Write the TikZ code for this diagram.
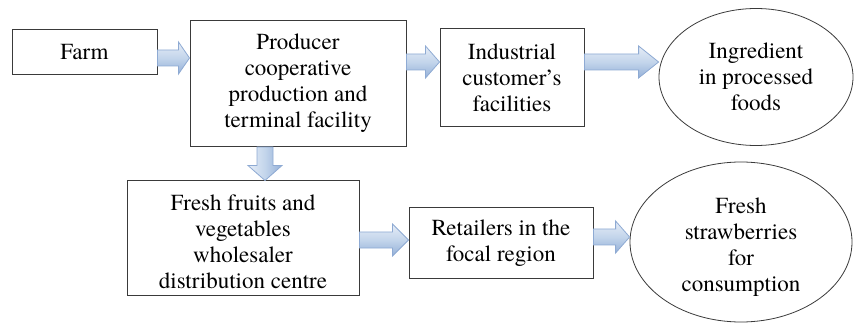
\documentclass[tikz,border=0pt]{standalone}
\usepackage{fontspec}
\setmainfont{TeX Gyre Termes}
\usetikzlibrary{shapes.geometric,calc}
\definecolor{arrline}{HTML}{8EAAD3}
\definecolor{arrtop}{HTML}{E6EDF7}
\definecolor{arrmid}{HTML}{C3D5EB}
\definecolor{arrbot}{HTML}{94B0D8}
\definecolor{boxline}{HTML}{3A3A3A}
\tikzset{
  txt/.style={inner sep=0pt,align=center,font=\fontsize{23}{26}\selectfont},
  box/.style={draw=boxline,line width=1pt,rectangle,txt},
  oval/.style={draw=boxline,line width=0.8pt,ellipse,txt},
  flowarrow/.style={draw=arrline,line width=0.8pt,top color=arrtop,bottom color=arrbot,middle color=arrmid},
  flowarrowv/.style={draw=arrline,line width=0.8pt,left color=arrtop,right color=arrbot,middle color=arrmid}
}
\newcommand\harrow[4]{%
  \path[flowarrow] let \p1=(#1), \p2=(#2) in
   (\x1,#3-8) -- (\x2-#4pt,#3-8) -- (\x2-#4pt,#3-16) -- (\x2,#3)
   -- (\x2-#4pt,#3+16) -- (\x2-#4pt,#3+8) -- (\x1,#3+8) -- cycle;}
\begin{document}
\begin{tikzpicture}[x=1pt,y=-1pt]
\useasboundingbox (0,0) rectangle (854,323);
\node[box,minimum width=145pt,minimum height=45pt] (farm) at (84.5,52.5) {Farm};
\node[box,minimum width=216pt,minimum height=126pt] (prod) at (298,83.5)
  {Producer\\cooperative\\production and\\terminal facility};
\node[box,minimum width=144pt,minimum height=98pt] (ind) at (512,78)
  {Industrial\\customer’s\\facilities};
\node[oval,minimum width=194pt,minimum height=137pt] (ingr) at (756,77)
  {Ingredient\\in processed\\foods};
\node[box,minimum width=232pt,minimum height=114pt] (fresh) at (243,238) {};
\node[txt] (freshtxt) at ($(fresh.center)+(0,4)$)
  {Fresh fruits and\\vegetables\\wholesaler\\distribution centre};
\node[box,minimum width=184pt,minimum height=70pt] (ret) at (501,243)
  {Retailers in the\\focal region};
\node[oval,minimum width=222pt,minimum height=160pt] (straw) at (741,242) {};
\node[txt] (strawtxt) at ($(straw.center)+(0,5)$)
  {Fresh\\strawberries\\for\\consumption};
\harrow{farm.east}{prod.west}{58}{11}
\harrow{prod.east}{ind.west}{62}{14}
\harrow{ind.east}{ingr.west}{62}{20}
\harrow{fresh.east}{ret.west}{240}{16}
\harrow{ret.east}{straw.west}{237}{14}
\path[flowarrowv] let \p1=(prod.south), \p2=(fresh.north) in
  (265-8,\y1) -- (265-8,\y2+15pt) -- (265-17,\y2+15pt) -- (265,\y2)
  -- (265+17,\y2+15pt) -- (265+8,\y2+15pt) -- (265+8,\y1) -- cycle;
\end{tikzpicture}
\end{document}
